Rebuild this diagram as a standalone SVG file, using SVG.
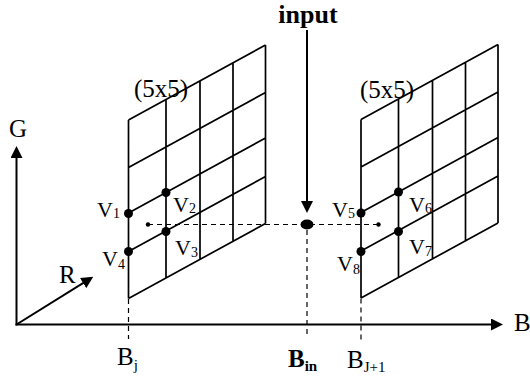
<svg xmlns="http://www.w3.org/2000/svg" xmlns:xlink="http://www.w3.org/1999/xlink" width="530" height="376" viewBox="0 0 530 376">
<style>
text{font-family:"Liberation Serif","Times New Roman",serif;fill:#000}
.lbl{font-size:25px}
.v{font-size:22px}
.sub{font-size:14px}
.bsub{font-size:15px}
.b{font-weight:bold}
.in{font-size:26px;font-weight:bold}
.grid{fill:none;stroke:#000;stroke-width:1.7}
.axis{fill:none;stroke:#000;stroke-width:2}
.dash{fill:none;stroke:#000;stroke-width:1.2;stroke-dasharray:5 4}
.dot{fill:#000}
</style>
<defs>
<marker id="ah" viewBox="0 0 12 12" refX="6" refY="6" markerWidth="12" markerHeight="12" markerUnits="userSpaceOnUse" orient="auto">
<path d="M0,0 L12,6 L0,12 z" fill="#000"/>
</marker>
<path id="gridpath" class="grid" d="M128.5,120 V298.5 M166,99.5 V278 M200,80.9 V259.4 M233,62.8 V241.3 M265.5,45 V223.5 M128.5,120 L265.5,45 M128.5,167.5 L265.5,92.5 M128.5,213 L265.5,138 M128.5,251.5 L265.5,176.5 M128.5,298.5 L265.5,223.5"/>
</defs>

<g id="axes">
<line class="axis" x1="16.5" y1="325.5" x2="16.5" y2="152" marker-end="url(#ah)"/>
<line class="axis" x1="15.5" y1="324.5" x2="497" y2="324.5" marker-end="url(#ah)"/>
<line class="axis" x1="16.5" y1="324.5" x2="88.2" y2="279.9" marker-end="url(#ah)"/>
<text class="lbl" x="9" y="136.5">G</text>
<text class="lbl" x="59" y="283">R</text>
<text class="lbl" x="514" y="331">B</text>
</g>

<g id="grid-left">
<use xlink:href="#gridpath"/>
<text class="lbl" x="134" y="97">(5x5)</text>
<circle class="dot" cx="128.5" cy="213.5" r="4.5"/>
<circle class="dot" cx="166" cy="192.5" r="4.5"/>
<circle class="dot" cx="166" cy="231.5" r="4.5"/>
<circle class="dot" cx="128.5" cy="251.5" r="4.5"/>
<text class="v" x="97" y="217">V<tspan class="sub" dy="1">1</tspan></text>
<text class="v" x="173" y="212">V<tspan class="sub" dy="1">2</tspan></text>
<text class="v" x="175" y="255">V<tspan class="sub" dy="2">3</tspan></text>
<text class="v" x="102" y="266">V<tspan class="sub" dy="3">4</tspan></text>
</g>

<g id="grid-right">
<use xlink:href="#gridpath" transform="translate(232.5,-0.5)"/>
<text class="lbl" x="360" y="98">(5x5)</text>
<circle class="dot" cx="361" cy="213" r="4.5"/>
<circle class="dot" cx="398.5" cy="192" r="4.5"/>
<circle class="dot" cx="398.5" cy="231.5" r="4.5"/>
<circle class="dot" cx="361" cy="251.5" r="4.5"/>
<text class="v" x="332" y="217">V<tspan class="sub" dy="1">5</tspan></text>
<text class="v" x="409" y="212">V<tspan class="sub" dy="1">6</tspan></text>
<text class="v" x="409" y="254">V<tspan class="sub" dy="2">7</tspan></text>
<text class="v" x="337" y="271">V<tspan class="sub" dy="3">8</tspan></text>
</g>

<g id="input">
<text class="in" x="308" y="23" text-anchor="middle">input</text>
<ellipse class="dot" cx="307" cy="224.5" rx="6.5" ry="5"/>
<text class="lbl b" x="288" y="367">B<tspan class="bsub" dy="4">in</tspan></text>
</g>

<g id="connectors">
<line class="axis" x1="307" y1="30" x2="307" y2="207" marker-end="url(#ah)"/>
<line class="dash" x1="148" y1="224.5" x2="378.5" y2="224.5"/>
<circle class="dot" cx="148" cy="224.5" r="2.2"/>
<circle class="dot" cx="378.5" cy="224.5" r="2.2"/>
<line class="dash" x1="128.5" y1="299" x2="128.5" y2="339"/>
<line class="dash" x1="307" y1="230" x2="307" y2="338"/>
<line class="dash" x1="361" y1="298.5" x2="361" y2="340"/>
</g>

<g id="b-labels">
<text class="lbl" x="117" y="365">B<tspan class="bsub" dy="5">j</tspan></text>
<text class="lbl" x="347" y="368">B<tspan class="bsub" dy="4">J+1</tspan></text>
</g>
</svg>
